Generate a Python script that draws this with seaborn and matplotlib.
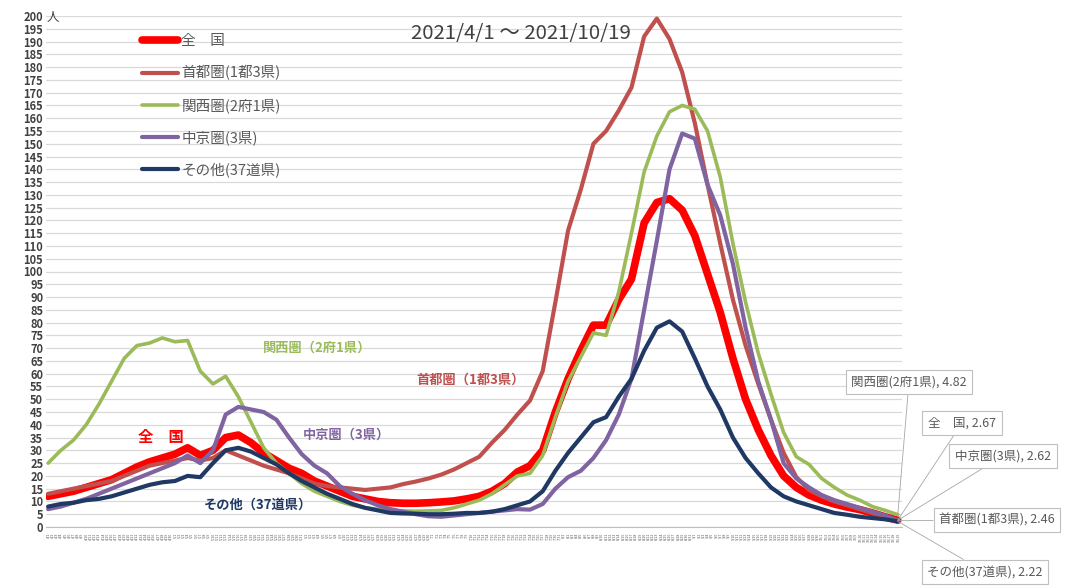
import matplotlib
matplotlib.use("Agg")
import matplotlib.pyplot as plt
import seaborn as sns
import pandas as pd

# --- data: 7-day values per 100k, sampled every 3 days from 2021/4/1 to 2021/10/19 ---
sample_dates = pd.date_range("2021-04-01", "2021-10-19", freq="3D")
all_dates = pd.date_range("2021-04-01", "2021-10-19")

national = [12, 13, 14, 15.5, 17, 18.5, 21, 23.5, 25.5, 27,
            28.5, 31, 28, 30, 35, 36, 33, 29, 26, 23,
            21, 18, 16, 14, 12, 11, 10, 9.5, 9.3, 9.3,
            9.5, 9.8, 10.2, 11, 12, 14, 17, 21.5, 24, 30,
            45, 58, 69, 79, 79, 89, 97, 119, 127, 128.5,
            124, 114, 99, 84, 66, 50, 38, 28, 20, 15.5,
            12.5, 10.5, 9, 7.8, 6.8, 5.5, 4, 2.67]
capital = [13, 14, 15, 16, 17, 18, 20, 22, 24, 25,
           26, 27, 26, 27, 30, 28, 26, 24, 22.5, 21,
           19, 17, 16, 15.5, 15, 14.5, 15, 15.5, 16.8, 17.8,
           19, 20.5, 22.5, 25, 27.5, 33, 38, 44, 49.5, 61,
           88, 116, 132, 150, 155, 163, 172, 192, 199, 191,
           178, 158, 134, 111, 89, 71, 56, 42, 29, 19.5,
           14.5, 12, 10, 8.5, 7, 5.5, 4, 2.46]
kansai = [25, 30, 34, 40, 48, 57, 66, 71, 72, 74,
          72.5, 73, 61, 56, 59, 51, 41, 31, 25, 21,
          17, 14, 12, 10, 8.5, 7.5, 7, 6.5, 6.3, 6.2,
          6.3, 6.5, 7.5, 9, 10.5, 13, 16.5, 20, 21, 28,
          43, 57, 66.5, 76, 75, 92, 115, 139, 153, 162.5,
          165, 163.5, 155, 137, 111, 88, 68, 52, 37, 27.5,
          24.5, 19, 15.5, 12.5, 10.5, 8, 6.5, 4.82]
chukyo = [7, 8, 9.5, 11, 13, 15, 17, 19, 21, 23,
          25, 28, 25, 30, 44, 47, 46, 45, 42, 35,
          28.5, 24, 21, 16, 13, 10.5, 8.5, 7, 6, 5,
          4.2, 4, 4.5, 5, 5.5, 6, 6.5, 7, 6.8, 9,
          15, 19.5, 22, 27, 34, 44, 58, 85, 112, 140,
          154, 152, 134, 122, 103, 78, 57, 42, 25, 19,
          15.5, 12.5, 10.5, 9, 7.5, 6, 4.5, 2.62]
other = [8, 9, 9.5, 10.5, 11, 12, 13.5, 15, 16.5, 17.5,
         18, 20, 19.5, 25, 30, 31, 29.5, 27, 24.5, 21,
         18, 15.5, 13, 11, 9, 7.5, 6.5, 5.5, 5.3, 5.2,
         5, 5, 5.2, 5.5, 5.5, 6, 7, 8.5, 10, 14,
         22, 29, 35, 41, 43, 51, 58, 69, 78, 80.5,
         76.5, 66, 55, 46, 35, 27, 21, 15.5, 12, 10,
         8.5, 7, 5.5, 4.8, 4, 3.5, 3, 2.22]

names = ["全　国", "首都圏(1都3県)", "関西圏(2府1県)", "中京圏(3県)", "その他(37道県)"]
inline_names = ["全　国", "首都圏（1都3県）", "関西圏（2府1県）", "中京圏（3県）", "その他（37道県）"]
colors = ["#FF0000", "#C0504D", "#9BBB59", "#8064A2", "#1F3864"]
widths = [5.5, 3.0, 2.6, 3.0, 3.0]
last_values = ["2.67", "2.46", "4.82", "2.62", "2.22"]

df = pd.DataFrame({
    "day": (sample_dates - sample_dates[0]).days,
    names[0]: national,
    names[1]: capital,
    names[2]: kansai,
    names[3]: chukyo,
    names[4]: other,
})

sns.set_style("white")
plt.rcParams["font.family"] = ["Noto Sans CJK JP", "DejaVu Sans"]

W, H = 1067, 586
fig = plt.figure(figsize=(W / 100, H / 100), dpi=100)
ax = fig.add_axes([46 / W, (H - 527) / H, (902 - 46) / W, (527 - 16) / H])

for name, c, lw in zip(names, colors, widths):
    sns.lineplot(data=df, x="day", y=name, ax=ax, color=c, lw=lw, label=name)

ax.set_xlim(-0.5, 202)
ax.set_ylim(0, 200)
ax.set_yticks(range(0, 201, 5))
ax.set_xticks(range(len(all_dates)))
ax.set_xticklabels([f"{d.month}/{d.day}" for d in all_dates], rotation=90,
                   fontsize=2.6, color="#595959")
ax.tick_params(axis="x", length=3, color="#BFBFBF", pad=1)
ax.tick_params(axis="y", length=0, pad=2, labelsize=8, labelcolor="#404040")
for lab in ax.get_yticklabels():
    lab.set_fontweight("bold")
ax.set_xlabel("")
ax.set_ylabel("")
ax.grid(axis="y", color="#D9D9D9", lw=0.9)
for s in ["top", "right", "left"]:
    ax.spines[s].set_visible(False)
ax.spines["bottom"].set_color("#BFBFBF")
ax.spines["bottom"].set_linewidth(0.8)

fig.text(47 / W, 1 - 17 / H, "人", fontsize=9, color="#404040", va="center", ha="left")
fig.text(521 / W, 1 - 33 / H, "2021/4/1 ～ 2021/10/19", fontsize=14.7, color="#404040",
         ha="center", va="center")

leg = ax.legend(loc="upper left", bbox_to_anchor=(142 / W, 1 - 34 / H),
                bbox_transform=fig.transFigure, frameon=False, fontsize=10.5,
                labelspacing=1.2, handlelength=2.5, handletextpad=0.2,
                borderpad=0, borderaxespad=0)
for t in leg.get_texts():
    t.set_color("#595959")

# labels inside the plot
inline = [(161, 437, 0, 11), (471, 380, 1, 9.5), (317, 348, 2, 9.5), (346, 435, 3, 9.5),
          (258, 505, 4, 9.5)]
for x, y, i, fs in inline:
    fig.text(x / W, 1 - y / H, inline_names[i], color=colors[i], fontsize=fs,
             fontweight="bold", ha="center", va="center")

# callouts on the right end
callouts = [(909, 382, 2, kansai), (962, 423, 0, national), (1003, 456, 3, chukyo),
            (997, 520, 1, capital), (985, 572, 4, other)]
for cx, cy, i, series in callouts:
    ax.annotate(f"{names[i]}, {last_values[i]}", xy=(df["day"].iloc[-1], series[-1]),
                xycoords="data", xytext=(cx, H - cy), textcoords="figure pixels",
                ha="center", va="center", fontsize=9, color="#595959",
                bbox=dict(boxstyle="square,pad=0.45", fc="white", ec="#BFBFBF", lw=0.8),
                arrowprops=dict(arrowstyle="-", color="#A6A6A6", lw=0.6,
                                shrinkA=0, shrinkB=0),
                annotation_clip=False)

fig.savefig("out.png", dpi=100)
